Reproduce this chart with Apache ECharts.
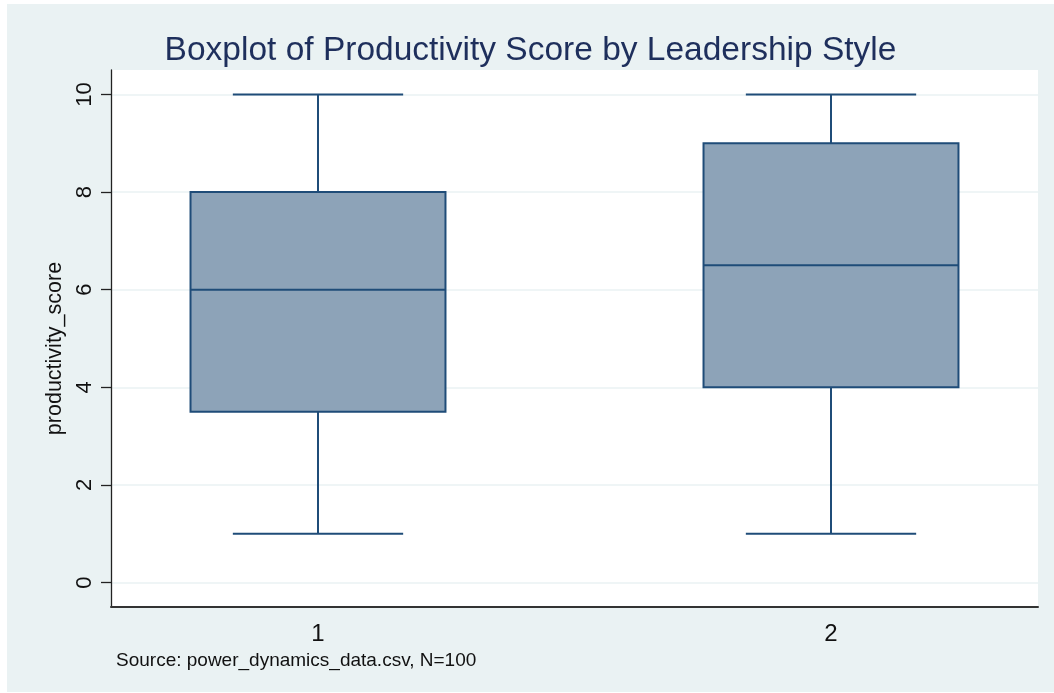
<!DOCTYPE html>
<html>
<head>
<meta charset="utf-8">
<script src="https://cdn.jsdelivr.net/npm/echarts@6/dist/echarts.min.js"></script>
<style>
  html, body { margin: 0; padding: 0; background: #fff; }
  #main { position: absolute; left: 7px; top: 4px; width: 1047px; height: 688px; }
</style>
</head>
<body>
<div id="main"></div>
<script>
var chartDom = document.getElementById('main');
var myChart = echarts.init(chartDom);
var option;

// leadership style groups and their box stats: [low whisker, Q1, median, Q3, high whisker]
var groups = [1, 2];
var lowWhisker = [1, 1];
var q1 = [3.5, 4];
var median = [6, 6.5];
var q3 = [8, 9];
var highWhisker = [10, 10];
var yTicks = [0, 2, 4, 6, 8, 10];

var boxData = groups.map(function (g, i) {
  return [g, lowWhisker[i], q1[i], median[i], q3[i], highWhisker[i]];
});

var boxHalf = 0.2485;
var capHalf = 0.166;
var stroke = '#1F4C78';

function renderBox(params, api) {
  var x = api.value(0);
  var lo = api.coord([x, api.value(1)]);
  var b1 = api.coord([x - boxHalf, api.value(2)]);
  var md = api.value(3);
  var b3 = api.coord([x + boxHalf, api.value(4)]);
  var hi = api.coord([x, api.value(5)]);
  var m1 = api.coord([x - boxHalf, md]);
  var m2 = api.coord([x + boxHalf, md]);
  var cl = api.coord([x - capHalf, 0])[0];
  var cr = api.coord([x + capHalf, 0])[0];
  var ls = { stroke: stroke, lineWidth: 2 };
  return {
    type: 'group',
    children: [
      { type: 'line', shape: { x1: lo[0], y1: lo[1], x2: lo[0], y2: b1[1] }, style: ls },
      { type: 'line', shape: { x1: hi[0], y1: hi[1], x2: hi[0], y2: b3[1] }, style: ls },
      { type: 'line', shape: { x1: cl, y1: lo[1], x2: cr, y2: lo[1] }, style: ls },
      { type: 'line', shape: { x1: cl, y1: hi[1], x2: cr, y2: hi[1] }, style: ls },
      {
        type: 'rect',
        shape: { x: b1[0], y: b3[1], width: b3[0] - b1[0], height: b1[1] - b3[1] },
        style: { fill: '#8DA3B8', stroke: stroke, lineWidth: 2 }
      },
      { type: 'line', shape: { x1: m1[0], y1: m1[1], x2: m2[0], y2: m2[1] }, style: ls }
    ]
  };
}

option = {
  backgroundColor: '#EAF2F3',
  animation: false,
  textStyle: { fontFamily: 'Liberation Sans, Arial, sans-serif' },
  title: {
    text: 'Boxplot of Productivity Score by Leadership Style',
    left: 'center',
    top: 25,
    textStyle: { fontSize: 33.5, fontWeight: 'normal', color: '#1E2F5C' }
  },
  grid: {
    left: 104,
    right: 16,
    top: 66,
    bottom: 85,
    show: true,
    backgroundColor: '#fff',
    borderWidth: 0
  },
  xAxis: {
    type: 'value',
    min: 0.5965,
    max: 2.4035,
    axisLine: { show: true, onZero: false, lineStyle: { color: '#333', width: 2 } },
    axisTick: { show: false },
    splitLine: { show: false },
    axisLabel: {
      customValues: groups,
      fontSize: 24,
      color: '#111',
      margin: 15
    }
  },
  yAxis: {
    type: 'value',
    min: -0.5,
    max: 10.5,
    name: 'productivity_score',
    nameLocation: 'middle',
    nameGap: 44,
    nameTextStyle: { fontSize: 21.5, color: '#111', padding: [0, 20, 0, 0] },
    axisLine: { show: true, lineStyle: { color: '#222', width: 1.3 } },
    axisTick: { show: true, customValues: yTicks, length: 10, lineStyle: { color: '#222', width: 1.3 } },
    axisLabel: { customValues: yTicks, rotate: 90, fontSize: 22, color: '#111', margin: 15 },
    splitLine: { show: true, customValues: yTicks, lineStyle: { color: '#EAF2F3', width: 1.5 } }
  },
  graphic: [
    {
      type: 'text',
      left: 109,
      top: 647,
      style: {
        text: 'Source: power_dynamics_data.csv, N=100',
        fontSize: 19,
        fill: '#111',
        fontFamily: 'Liberation Sans, Arial, sans-serif'
      }
    }
  ],
  series: [
    {
      type: 'custom',
      renderItem: renderBox,
      encode: { x: 0, y: [1, 2, 3, 4, 5] },
      data: boxData
    }
  ]
};

option && myChart.setOption(option);
</script>
</body>
</html>
